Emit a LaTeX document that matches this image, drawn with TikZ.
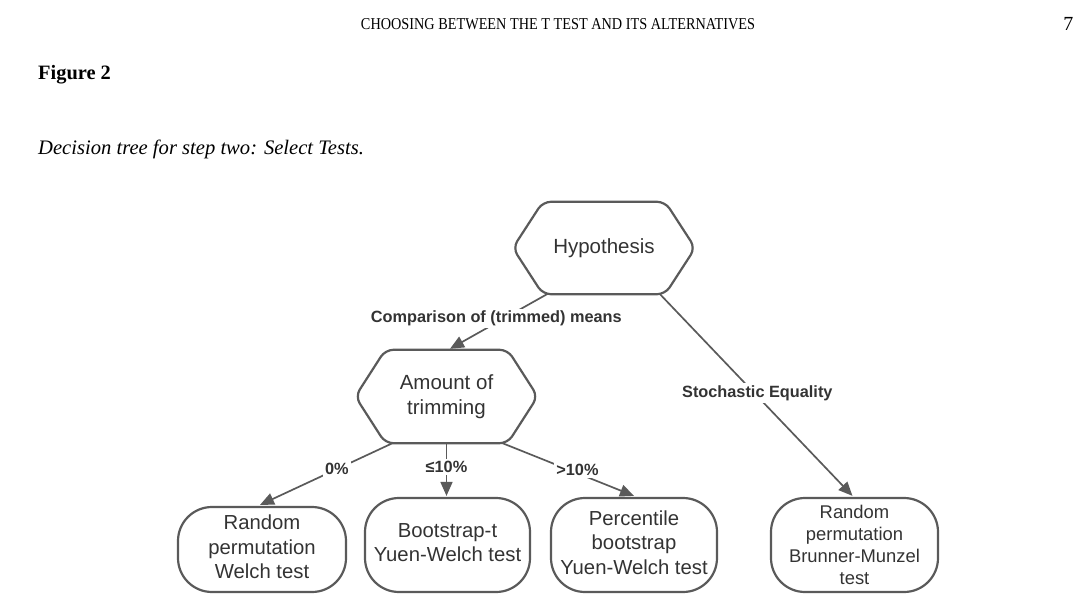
\documentclass[tikz,border=0pt]{standalone}
\usepackage{fontspec}
\setmainfont{Liberation Serif}
\newfontfamily\sansf{Liberation Sans}
\usetikzlibrary{arrows.meta,calc}
\definecolor{edgegray}{HTML}{5A5A5A}
\definecolor{txtgray}{HTML}{333333}
\begin{document}
\begin{tikzpicture}[x=1pt,y=-1pt,
  hexnode/.style={minimum width=182pt, minimum height=92pt, inner sep=0pt, align=center,
    font=\sansf\fontsize{20.5}{25}\selectfont, text=txtgray},
  hexline/.style={draw=edgegray, line width=2.2pt, rounded corners=8pt},
  testbox/.style={draw=edgegray, line width=2.2pt, rounded corners=34pt, minimum width=166pt,
    minimum height=94pt, inner sep=0pt, align=center, text depth=5pt,
    font=\sansf\fontsize{20.3}{24.5}\selectfont, text=txtgray},
  conn/.style={draw=edgegray, line width=1.7pt, -{Triangle[length=14pt,width=12pt]}},
  lbl/.style={font=\sansf\bfseries\fontsize{16.3}{19}\selectfont, text=txtgray, fill=white, inner sep=2pt},
]
\useasboundingbox (0,0) rectangle (1080,615);

% page header and caption
\node (hdr) at (558,24) {\scalebox{0.86}[1]{\fontsize{16.6}{19}\selectfont CHOOSING BETWEEN THE T TEST AND ITS ALTERNATIVES}};
\node[anchor=base east, font=\fontsize{20}{24}\selectfont] (pg) at (1077,31) {7};
\node[anchor=base west, font=\bfseries\fontsize{20.4}{24}\selectfont, inner sep=0pt] (fig) at (38,80) {Figure 2};
\node[anchor=base west, font=\itshape\fontsize{20.6}{24}\selectfont, inner sep=0pt] (cap) at (38,155) {Decision tree for step two: Select Tests.};

% hexagon nodes
\node[hexnode] (hyp) at (604,248) {Hypothesis};
\draw[hexline] (hyp.west) -- ($(hyp.north west)+(30,0)$) -- ($(hyp.north east)+(-30,0)$)
  -- (hyp.east) -- ($(hyp.south east)+(-30,0)$) -- ($(hyp.south west)+(30,0)$) -- cycle;

\node[hexnode, minimum height=93pt] (amt) at (446.5,396.5) {Amount of\\trimming};
\draw[hexline] (amt.west) -- ($(amt.north west)+(30,0)$) -- ($(amt.north east)+(-30,0)$)
  -- (amt.east) -- ($(amt.south east)+(-30,0)$) -- ($(amt.south west)+(30,0)$) -- cycle;

% result boxes
\node[testbox, minimum width=168pt, minimum height=85pt] (b1) at (262,549.5) {Random\\permutation\\Welch test};
\node[testbox, minimum width=165pt] (b2) at (447.5,545) {Bootstrap-t\\Yuen-Welch test};
\node[testbox] (b3) at (634,545) {Percentile\\bootstrap\\Yuen-Welch test};
\node[testbox, minimum width=167pt, text depth=0pt, font=\sansf\fontsize{18.4}{22}\selectfont] (b4) at (854.5,545) {Random\\permutation\\Brunner-Munzel\\test};

% connectors
\draw[conn] ($(hyp.south)+(-57,0)$) -- node[lbl, pos=0.45, xshift=-7pt] {Comparison of (trimmed) means} ($(amt.north)+(3.5,-1)$);
\draw[conn] ($(hyp.south)+(56,0)$) -- node[lbl, pos=0.49, xshift=3pt] {Stochastic Equality} ($(b4.north)+(-2,-1)$);
\draw[conn] ($(amt.south)+(-54,0)$) -- node[lbl, pos=0.42] {0\%} ($(b1.north)+(-2,-1)$);
\draw[conn] (amt.south) -- node[lbl, pos=0.45] {≤10\%} ($(b2.north)+(-1,-1)$);
\draw[conn] ($(amt.south)+(56,0)$) -- node[lbl, pos=0.57, yshift=3pt] {>10\%} ($(b3.north)+(0,-1)$);
\end{tikzpicture}
\end{document}
